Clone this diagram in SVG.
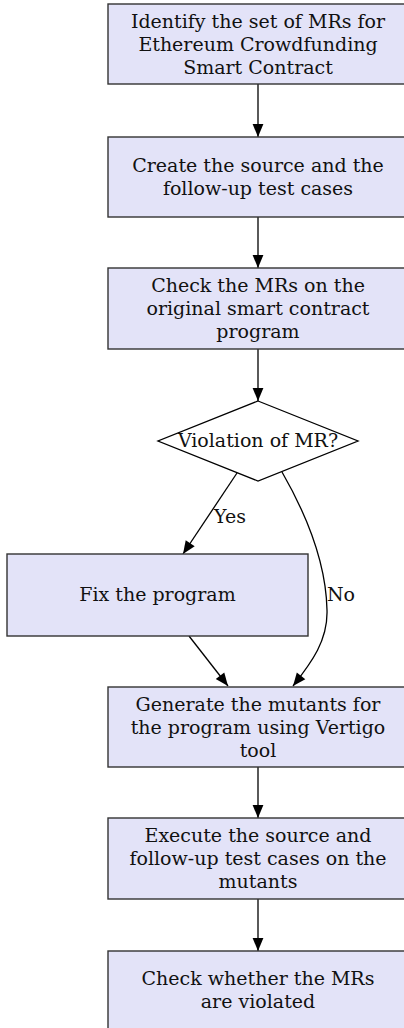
<svg xmlns="http://www.w3.org/2000/svg" width="404" height="1028" viewBox="0 0 404 1028">
<style>
.box{fill:#e3e3f8;stroke:#333;stroke-width:1.4}
.dia{fill:#fff;stroke:#000;stroke-width:1.3}
text{font-family:"DejaVu Serif",serif;font-size:19px;fill:#111;text-anchor:middle}
.edge{fill:none;stroke:#000;stroke-width:1.3}
</style>
<defs>
<marker id="ah" markerUnits="userSpaceOnUse" markerWidth="14" markerHeight="12" viewBox="0 0 13 12" refX="13" refY="6" orient="auto">
<path d="M0,0.6 L13,6 L0,11.4 z" fill="#000"/>
</marker>
</defs>
<rect width="404" height="1028" fill="#fff"/>
<g id="connectors">
<path class="edge" d="M258,84 L258,137" marker-end="url(#ah)"/>
<path class="edge" d="M258,217 L258,268" marker-end="url(#ah)"/>
<path class="edge" d="M258,349 L258,401" marker-end="url(#ah)"/>
<path class="edge" d="M237,473 L183,554" marker-end="url(#ah)"/>
<path class="edge" d="M282,472 C305,512 326,560 327,610 C328,640 312,662 293,686" marker-end="url(#ah)"/>
<path class="edge" d="M189,636 L228,686" marker-end="url(#ah)"/>
<path class="edge" d="M258,767 L258,818" marker-end="url(#ah)"/>
<path class="edge" d="M258,899 L258,951" marker-end="url(#ah)"/>
<text x="230" y="523">Yes</text>
<text x="341" y="601">No</text>
</g>
<g id="n1"><rect class="box" x="108" y="4" width="302" height="80"/>
<text x="258" y="28">Identify the set of MRs for</text><text x="258" y="51">Ethereum Crowdfunding</text><text x="258" y="74">Smart Contract</text></g>
<g id="n2"><rect class="box" x="108" y="137" width="302" height="80"/>
<text x="258" y="172">Create the source and the</text><text x="258" y="195">follow-up test cases</text></g>
<g id="n3"><rect class="box" x="108" y="268" width="302" height="81"/>
<text x="258" y="292">Check the MRs on the</text><text x="258" y="315">original smart contract</text><text x="258" y="338">program</text></g>
<g id="n4"><polygon class="dia" points="258,401 358,441 258,481 158,441"/>
<text x="258" y="447">Violation of MR?</text></g>
<g id="n5"><rect class="box" x="7" y="554" width="301" height="82"/>
<text x="157.5" y="601">Fix the program</text></g>
<g id="n6"><rect class="box" x="108" y="687" width="302" height="80"/>
<text x="258" y="711">Generate the mutants for</text><text x="258" y="734">the program using Vertigo</text><text x="258" y="757">tool</text></g>
<g id="n7"><rect class="box" x="108" y="818" width="302" height="81"/>
<text x="258" y="842">Execute the source and</text><text x="258" y="865">follow-up test cases on the</text><text x="258" y="888">mutants</text></g>
<g id="n8"><rect class="box" x="108" y="951" width="302" height="80"/>
<text x="258" y="985">Check whether the MRs</text><text x="258" y="1008">are violated</text></g>
</svg>
